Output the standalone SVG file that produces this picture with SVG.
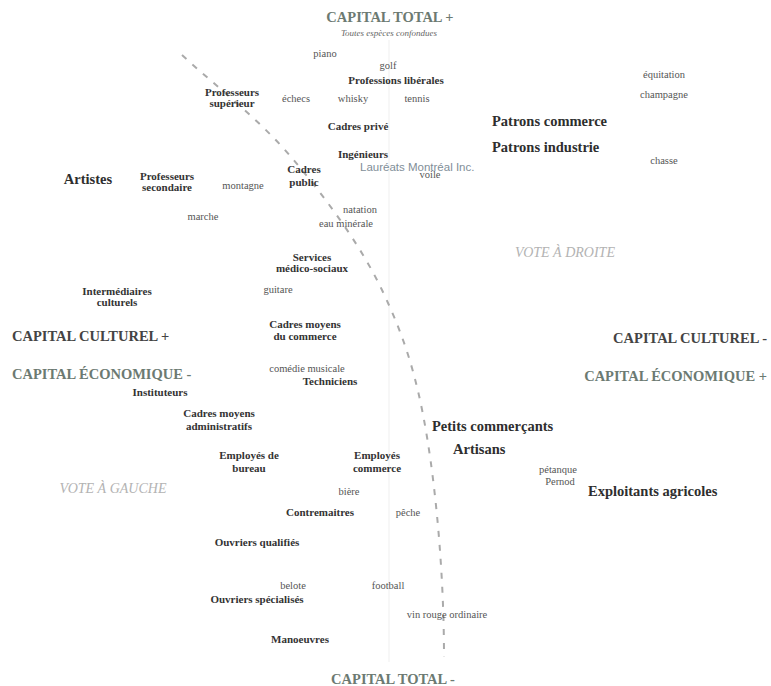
<svg xmlns="http://www.w3.org/2000/svg" width="771" height="686" viewBox="0 0 771 686">
<style>
text{font-family:"Liberation Serif","Times New Roman",serif;}
.cat{font-size:11px;font-weight:bold;fill:#333;text-anchor:middle;}
.big{font-size:14.5px;font-weight:bold;fill:#2e2e2e;}
.word{font-size:10.5px;fill:#555;text-anchor:middle;}
.axis{font-size:14.5px;font-weight:bold;fill:#6c7a72;}
.axis2{font-size:14.5px;font-weight:bold;fill:#444;}
.vote{font-size:14px;font-style:italic;fill:#b3b3b3;text-anchor:middle;}
.wm{font-family:"Liberation Sans",Arial,sans-serif;font-size:11.5px;fill:#7f8e98;}
</style>
<rect width="771" height="686" fill="#fff"/>
<g id="connectors">
<line x1="389" y1="40" x2="389" y2="662" stroke="#f4f4f4" stroke-width="1.5"/>
<path d="M182,55 C219,89 259,119 292,158 C325,197 360,244 382,290 C404,336 417,376 427,437 C437,498 444,580 444,657" fill="none" stroke="#aaa" stroke-width="2" stroke-dasharray="6 8"/>
</g>
<g id="axis-top"><text class="axis" x="390" y="22" text-anchor="middle">CAPITAL TOTAL +</text>
<text x="389" y="36" text-anchor="middle" font-size="9" font-style="italic" fill="#666">Toutes espèces confondues</text></g>
<g id="axis-bottom"><text class="axis" x="393" y="684" text-anchor="middle">CAPITAL TOTAL -</text></g>
<g id="axis-left1"><text class="axis2" x="12" y="341">CAPITAL CULTUREL +</text></g>
<g id="axis-left2"><text class="axis" x="12" y="379" fill="#7d8a82">CAPITAL ÉCONOMIQUE -</text></g>
<g id="axis-right1"><text class="axis2" x="767" y="343" text-anchor="end">CAPITAL CULTUREL -</text></g>
<g id="axis-right2"><text class="axis" x="767" y="381" text-anchor="end">CAPITAL ÉCONOMIQUE +</text></g>
<g id="vote-droite"><text class="vote" x="565" y="257">VOTE À DROITE</text></g>
<g id="vote-gauche"><text class="vote" x="113" y="493">VOTE À GAUCHE</text></g>
<g id="watermark"><text class="wm" x="360" y="171">Lauréats Montréal Inc.</text></g>

<g id="piano"><text class="word" x="325" y="57">piano</text></g>
<g id="golf"><text class="word" x="388" y="69">golf</text></g>
<g id="prof-liberales"><text class="cat" x="396" y="84">Professions libérales</text></g>
<g id="prof-sup"><text class="cat" x="232" y="96">Professeurs</text><text class="cat" x="232" y="107">supérieur</text></g>
<g id="echecs"><text class="word" x="296" y="102">échecs</text></g>
<g id="whisky"><text class="word" x="353" y="102">whisky</text></g>
<g id="tennis"><text class="word" x="417" y="102">tennis</text></g>
<g id="cadres-prive"><text class="cat" x="358" y="130">Cadres privé</text></g>
<g id="equitation"><text class="word" x="664" y="78">équitation</text></g>
<g id="champagne"><text class="word" x="664" y="98">champagne</text></g>
<g id="patrons-commerce"><text class="big" x="492" y="126">Patrons commerce</text></g>
<g id="patrons-industrie"><text class="big" x="492" y="152">Patrons industrie</text></g>
<g id="chasse"><text class="word" x="664" y="164">chasse</text></g>
<g id="ingenieurs"><text class="cat" x="363" y="158">Ingénieurs</text></g>
<g id="voile"><text class="word" x="430" y="178" font-size="9">voile</text></g>
<g id="cadres-public"><text class="cat" x="304" y="173">Cadres</text><text class="cat" x="304" y="186">public</text></g>
<g id="artistes"><text class="big" x="88" y="184" text-anchor="middle">Artistes</text></g>
<g id="prof-sec"><text class="cat" x="167" y="180">Professeurs</text><text class="cat" x="167" y="191">secondaire</text></g>
<g id="montagne"><text class="word" x="243" y="189">montagne</text></g>
<g id="marche"><text class="word" x="203" y="220">marche</text></g>
<g id="natation"><text class="word" x="360" y="213">natation</text></g>
<g id="eau-minerale"><text class="word" x="346" y="227">eau minérale</text></g>
<g id="services"><text class="cat" x="312" y="261">Services</text><text class="cat" x="312" y="272">médico-sociaux</text></g>
<g id="guitare"><text class="word" x="278" y="293">guitare</text></g>
<g id="intermediaires"><text class="cat" x="117" y="295">Intermédiaires</text><text class="cat" x="117" y="306">culturels</text></g>
<g id="cadres-moyens-commerce"><text class="cat" x="305" y="328">Cadres moyens</text><text class="cat" x="305" y="340">du commerce</text></g>
<g id="comedie"><text class="word" x="307" y="372">comédie musicale</text></g>
<g id="techniciens"><text class="cat" x="330" y="385">Techniciens</text></g>
<g id="instituteurs"><text class="cat" x="160" y="396">Instituteurs</text></g>
<g id="cadres-moyens-admin"><text class="cat" x="219" y="417">Cadres moyens</text><text class="cat" x="219" y="430">administratifs</text></g>
<g id="employes-bureau"><text class="cat" x="249" y="459">Employés de</text><text class="cat" x="249" y="472">bureau</text></g>
<g id="employes-commerce"><text class="cat" x="377" y="459">Employés</text><text class="cat" x="377" y="472">commerce</text></g>
<g id="petits-commercants"><text class="big" x="432" y="431">Petits commerçants</text></g>
<g id="artisans"><text class="big" x="453" y="454">Artisans</text></g>
<g id="petanque"><text class="word" x="558" y="473" font-size="9.5">pétanque</text></g>
<g id="pernod"><text class="word" x="560" y="485" font-size="9.5">Pernod</text></g>
<g id="exploitants"><text class="big" x="588" y="496">Exploitants agricoles</text></g>
<g id="biere"><text class="word" x="349" y="495">bière</text></g>
<g id="contremaitres"><text class="cat" x="320" y="516">Contremaitres</text></g>
<g id="peche"><text class="word" x="408" y="516">pêche</text></g>
<g id="ouvriers-qualifies"><text class="cat" x="257" y="546">Ouvriers qualifiés</text></g>
<g id="belote"><text class="word" x="293" y="589">belote</text></g>
<g id="football"><text class="word" x="388" y="589">football</text></g>
<g id="ouvriers-specialises"><text class="cat" x="257" y="603">Ouvriers spécialisés</text></g>
<g id="vin-rouge"><text class="word" x="447" y="618">vin rouge ordinaire</text></g>
<g id="manoeuvres"><text class="cat" x="300" y="643">Manoeuvres</text></g>
</svg>
